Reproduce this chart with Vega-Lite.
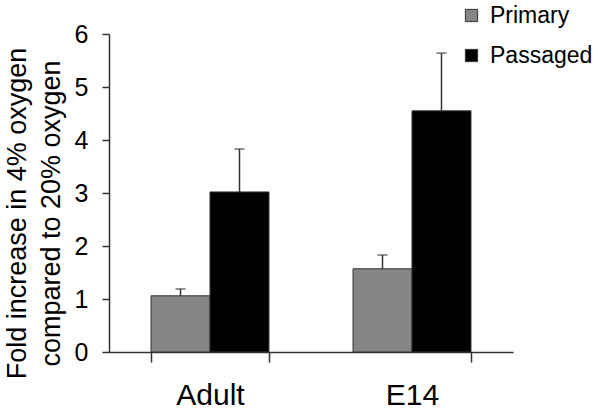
{
  "$schema": "https://vega.github.io/schema/vega-lite/v6.json",
  "width": 404,
  "height": 318,
  "autosize": {"type": "none"},
  "padding": {"left": 109, "top": 34, "right": 87, "bottom": 60},
  "background": "white",
  "config": {
    "view": {"stroke": null},
    "font": "Liberation Sans",
    "axis": {"domainColor": "#333", "tickColor": "#333", "labelColor": "#000", "titleColor": "#000", "grid": false, "domainWidth": 1.5, "tickWidth": 1.5}
  },
  "data": {
    "values": [
      {"group": "Adult", "type": "Primary", "value": 1.06, "upper": 1.19},
      {"group": "Adult", "type": "Passaged", "value": 3.02, "upper": 3.83},
      {"group": "E14", "type": "Primary", "value": 1.57, "upper": 1.83},
      {"group": "E14", "type": "Passaged", "value": 4.55, "upper": 5.64}
    ]
  },
  "encoding": {
    "x": {
      "field": "group", "type": "nominal", "sort": ["Adult", "E14"],
      "scale": {"paddingInner": 0.416, "paddingOuter": 0.208},
      "axis": {"title": null, "labelAngle": 0, "labelFontSize": 30, "tickBand": "extent", "tickSize": 10, "labelPadding": 18}
    },
    "xOffset": {"field": "type", "type": "nominal", "sort": ["Primary", "Passaged"], "scale": {"paddingInner": 0, "paddingOuter": 0}}
  },
  "layer": [
    {
      "mark": {"type": "bar", "stroke": "#333", "strokeWidth": 1},
      "encoding": {
        "y": {
          "field": "value", "type": "quantitative",
          "scale": {"domain": [0, 6]},
          "axis": {
            "title": ["Fold increase in 4% oxygen", "compared to 20% oxygen"],
            "titleFontSize": 27, "titleFontWeight": "normal", "titleLineHeight": 34,
            "titlePadding": 9, "titleY": 179,
            "values": [0, 1, 2, 3, 4, 5, 6],
            "labelFontSize": 25, "tickSize": 7, "labelPadding": 14
          }
        },
        "color": {
          "field": "type", "type": "nominal",
          "scale": {"domain": ["Primary", "Passaged"], "range": ["#858585", "#000000"]},
          "legend": {
            "title": null, "orient": "none", "legendX": 351, "legendY": -30,
            "symbolType": "square", "symbolSize": 150, "symbolStrokeColor": "#333", "symbolStrokeWidth": 1,
            "labelFontSize": 23, "labelOffset": 7, "rowPadding": 16, "labelColor": "#000"
          }
        }
      }
    },
    {
      "mark": {"type": "rule", "color": "#333", "strokeWidth": 1.5},
      "encoding": {
        "y": {"field": "value", "type": "quantitative"},
        "y2": {"field": "upper"}
      }
    },
    {
      "mark": {"type": "tick", "color": "#333", "thickness": 1.5, "size": 10},
      "encoding": {
        "y": {"field": "upper", "type": "quantitative"}
      }
    }
  ]
}
